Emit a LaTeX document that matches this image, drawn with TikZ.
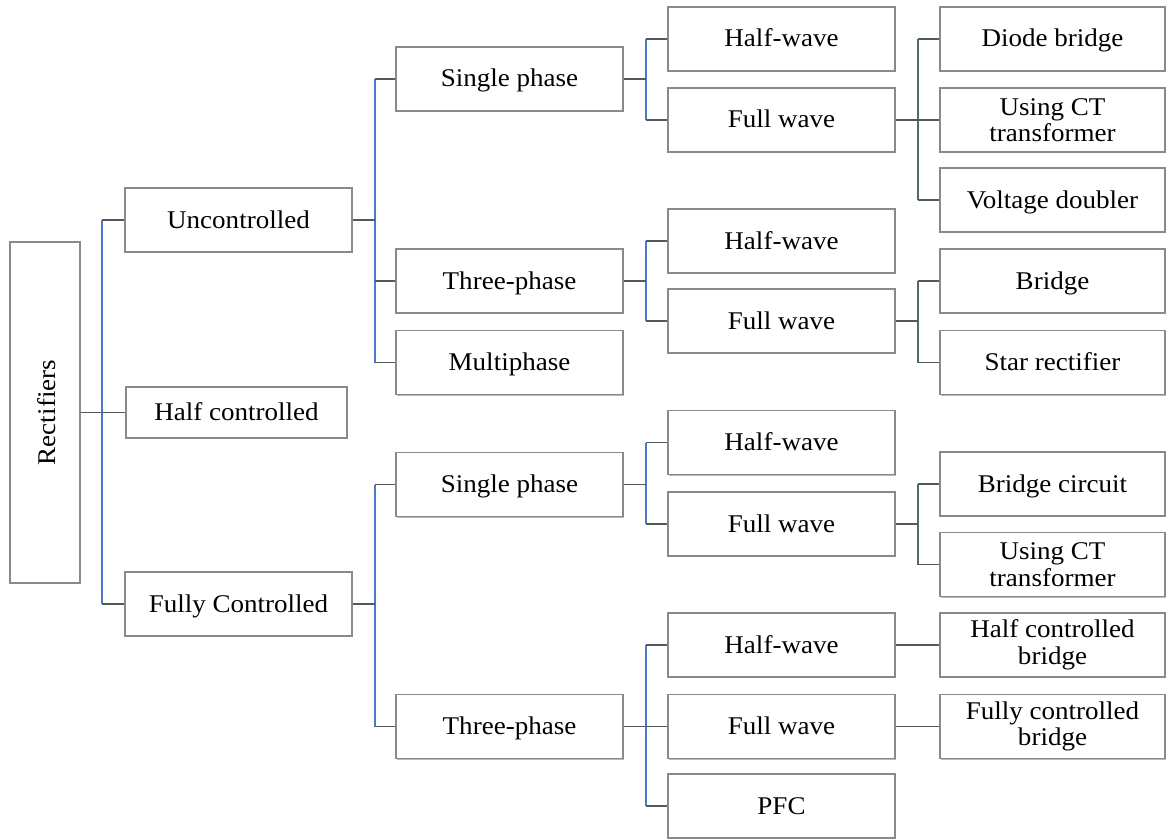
\documentclass[tikz,border=0pt]{standalone}
\usepackage{fontspec}
\setmainfont{Liberation Serif}[FakeStretch=1.06]
\usetikzlibrary{shadows}
\definecolor{boxline}{HTML}{8A8A8A}
\definecolor{stub}{HTML}{525A5A}
\definecolor{spineblue}{HTML}{4A7AC8}
\definecolor{spineteal}{HTML}{4F6A6A}
\tikzset{
  box/.style={draw=boxline, line width=1.3pt, fill=white, minimum width=227, minimum height=64,
    align=center, inner sep=2pt, font=\fontsize{25.5}{26.5}\selectfont,
    text height=19pt, text depth=3pt,
    drop shadow={shadow xshift=1.2pt, shadow yshift=-1.2pt, fill=gray!55, opacity=1}},
  twoline/.style={text height=, text depth=},
  stubline/.style={draw=stub, line width=1.8pt},
  bluespine/.style={draw=spineblue, line width=1.9pt},
  tealspine/.style={draw=spineteal, line width=1.9pt},
}
\begin{document}
\begin{tikzpicture}[x=1pt,y=-1pt]
\useasboundingbox (0,0) rectangle (1167,840);
% spine x positions
\coordinate (s1) at (102,0);
\coordinate (s2) at (375,0);
\coordinate (s3) at (646,0);
\coordinate (s4) at (918,0);
% column 1
\node[box, minimum width=70, minimum height=341] (rect) at (45,412.5) {};
\node[rotate=90, font=\fontsize{25.5}{26.5}\selectfont, text height=19pt, text depth=3pt] (recttext) at (47.5,412.5) {Rectifiers};
% column 2
\node[box] (unc) at (238.5,220) {Uncontrolled};
\node[box, minimum width=221, minimum height=51] (half) at (236.5,412.5) {Half controlled};
\node[box] (full) at (238.5,604) {Fully Controlled};
% column 3
\node[box] (sp1) at (509.5,79) {Single phase};
\node[box] (tp1) at (509.5,281) {Three-phase};
\node[box] (mp) at (509.5,362.5) {Multiphase};
\node[box] (sp2) at (509.5,484.5) {Single phase};
\node[box] (tp2) at (509.5,726.5) {Three-phase};
% column 4
\node[box] (hw1) at (781.5,39) {Half-wave};
\node[box] (fw1) at (781.5,120) {Full wave};
\node[box] (hw2) at (781.5,241) {Half-wave};
\node[box] (fw2) at (781.5,321) {Full wave};
\node[box] (hw3) at (781.5,442.5) {Half-wave};
\node[box] (fw3) at (781.5,524) {Full wave};
\node[box] (hw4) at (781.5,645) {Half-wave};
\node[box] (fw4) at (781.5,726.5) {Full wave};
\node[box] (pfc) at (781.5,806) {PFC};
% column 5
\node[box, minimum width=225] (db) at (1052.5,39) {Diode bridge};
\node[box, twoline, minimum width=225] (ct1) at (1052.5,120) {Using CT\\transformer};
\node[box, minimum width=225] (vd) at (1052.5,200) {Voltage doubler};
\node[box, minimum width=225] (br) at (1052.5,281) {Bridge};
\node[box, minimum width=225] (sr) at (1052.5,362.5) {Star rectifier};
\node[box, minimum width=225] (bc) at (1052.5,484) {Bridge circuit};
\node[box, twoline, minimum width=225] (ct2) at (1052.5,564.5) {Using CT\\transformer};
\node[box, twoline, minimum width=225] (hcb) at (1052.5,645) {Half controlled\\bridge};
\node[box, twoline, minimum width=225] (fcb) at (1052.5,726.5) {Fully controlled\\bridge};
% level 1
\draw[bluespine] (unc.west -| s1) -- (full.west -| s1);
\draw[stubline] (rect.east) -- (half.west);
\foreach \c in {unc,full} \draw[stubline] (\c.west -| s1) -- (\c.west);
% level 2 upper
\draw[bluespine] (sp1.west -| s2) -- (mp.west -| s2);
\draw[stubline] (unc.east) -- (unc.east -| s2);
\foreach \c in {sp1,tp1,mp} \draw[stubline] (\c.west -| s2) -- (\c.west);
% level 2 lower
\draw[bluespine] (sp2.west -| s2) -- (tp2.west -| s2);
\draw[stubline] (full.east) -- (full.east -| s2);
\foreach \c in {sp2,tp2} \draw[stubline] (\c.west -| s2) -- (\c.west);
% level 3
\draw[bluespine] (hw1.west -| s3) -- (fw1.west -| s3);
\draw[stubline] (sp1.east) -- (sp1.east -| s3);
\foreach \c in {hw1,fw1} \draw[stubline] (\c.west -| s3) -- (\c.west);
\draw[bluespine] (hw2.west -| s3) -- (fw2.west -| s3);
\draw[stubline] (tp1.east) -- (tp1.east -| s3);
\foreach \c in {hw2,fw2} \draw[stubline] (\c.west -| s3) -- (\c.west);
\draw[bluespine] (hw3.west -| s3) -- (fw3.west -| s3);
\draw[stubline] (sp2.east) -- (sp2.east -| s3);
\foreach \c in {hw3,fw3} \draw[stubline] (\c.west -| s3) -- (\c.west);
\draw[bluespine] (hw4.west -| s3) -- (pfc.west -| s3);
\draw[stubline] (tp2.east) -- (tp2.east -| s3);
\foreach \c in {hw4,fw4,pfc} \draw[stubline] (\c.west -| s3) -- (\c.west);
% level 4
\draw[tealspine] (db.west -| s4) -- (vd.west -| s4);
\draw[stubline] (fw1.east) -- (fw1.east -| s4);
\foreach \c in {db,ct1,vd} \draw[stubline] (\c.west -| s4) -- (\c.west);
\draw[tealspine] (br.west -| s4) -- (sr.west -| s4);
\draw[stubline] (fw2.east) -- (fw2.east -| s4);
\foreach \c in {br,sr} \draw[stubline] (\c.west -| s4) -- (\c.west);
\draw[tealspine] (bc.west -| s4) -- (ct2.west -| s4);
\draw[stubline] (fw3.east) -- (fw3.east -| s4);
\foreach \c in {bc,ct2} \draw[stubline] (\c.west -| s4) -- (\c.west);
\draw[stubline] (hw4.east) -- (hcb.west);
\draw[stubline] (fw4.east) -- (fcb.west);
\end{tikzpicture}
\end{document}
